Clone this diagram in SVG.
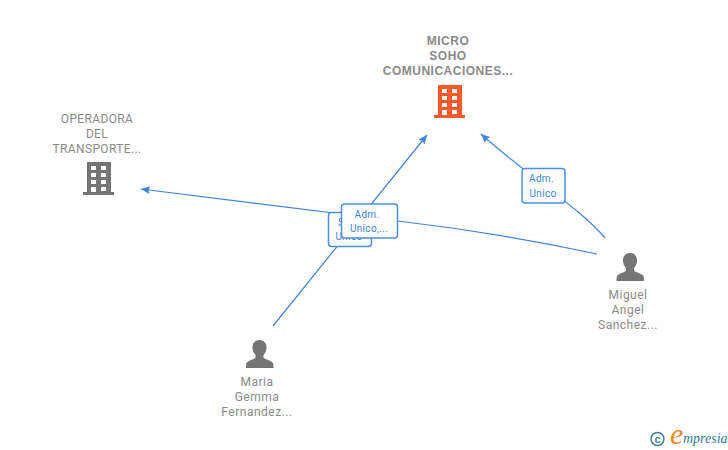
<svg xmlns="http://www.w3.org/2000/svg" width="728" height="450" viewBox="0 0 728 450">
<style>
.bg{fill:#fff}
.lbl{font-family:"Roboto","Liberation Sans",Arial,sans-serif;font-size:12px;fill:#8a8a8a;text-anchor:middle;letter-spacing:.5px}
.t{letter-spacing:.35px}
.b{font-family:"Liberation Sans",Arial,sans-serif;font-weight:700;letter-spacing:.5px}
.edge{fill:none;stroke:#3d83e0;stroke-width:1.2}
.box{fill:#fff;stroke:#4a8fe6;stroke-width:1.5}
.etxt{font-family:"Roboto","Liberation Sans",Arial,sans-serif;font-size:10px;fill:#3d83e0;text-anchor:middle;letter-spacing:.3px}
</style>
<defs>
<marker id="arr" markerWidth="10" markerHeight="10" refX="9" refY="4" orient="auto" markerUnits="userSpaceOnUse">
<path d="M0 0 L9 4 L0 8 L1.500 4 Z" fill="#3d83e0"/>
</marker>
<g id="bld">
<path d="M-12 -17H12V13H15V16H-16V13H-12ZM-8 -13V-9H-3V-13ZM2 -13V-9H7V-13ZM-8 -6V-2H-3V-6ZM2 -6V-2H7V-6ZM-8 1V5H-3V1ZM2 1V5H7V1ZM-8 8V13H-3V8ZM2 8V12H7V8Z" fill-rule="evenodd"/>
</g>
<g id="person">
<path d="M0 -14C5 -14 7.500 -10 7 -5.500C6.700 -2.500 5.500 -.5 4 1V3.500C4 5 11 6 13.500 9C14 10.500 14 13 14 14H-13.500C-13.500 13 -13.500 10.500 -13 9C-10.500 6 -4 5 -4 3.500V1C-5.500 -.5 -6.700 -2.500 -7 -5.500C-7.500 -10 -5 -14 0 -14Z" fill="#757575"/>
</g>
</defs>
<rect class="bg" width="728" height="450"/>
<g id="connectors">
<path class="edge" marker-end="url(#arr)" d="M597 254Q500 233 398 221L141 189"/>
<path class="edge" marker-end="url(#arr)" d="M273 326L427 135"/>
<path class="edge" marker-end="url(#arr)" d="M605 238C580 208 530 178 481 134"/>
</g>
<g id="edge-label-1">
<rect class="box" x="328.500" y="212.500" width="43" height="34" rx="3"/>
<text class="etxt" x="338" y="226" style="text-anchor:start">S</text>
<text class="etxt" x="349" y="240">Unico</text>
</g>
<g id="edge-label-2">
<rect class="box" x="341.500" y="204" width="56" height="34" rx="3"/>
<text class="etxt" x="367" y="218">Adm.</text>
<text class="etxt" x="369" y="232">Unico,...</text>
</g>
<g id="edge-label-3">
<rect class="box" x="522" y="168.500" width="43" height="34.500" rx="3"/>
<text class="etxt" x="541.500" y="182">Adm.</text>
<text class="etxt" x="543" y="197">Unico</text>
</g>
<g id="node-micro">
<text class="lbl b" x="448" y="45">MICRO</text>
<text class="lbl b" x="448" y="60">SOHO</text>
<text class="lbl b" x="448" y="75">COMUNICACIONES...</text>
<use href="#bld" x="450" y="102" fill="#ff5a2b"/>
</g>
<g id="node-operadora">
<text class="lbl t" x="97" y="123">OPERADORA</text>
<text class="lbl t" x="97" y="138">DEL</text>
<text class="lbl t" x="97" y="153">TRANSPORTE...</text>
<use href="#bld" x="99" y="179" fill="#757575"/>
</g>
<g id="node-miguel">
<use href="#person" x="630" y="267"/>
<text class="lbl" x="628" y="299">Miguel</text>
<text class="lbl" x="628" y="314">Angel</text>
<text class="lbl" x="628" y="329">Sanchez...</text>
</g>
<g id="node-maria">
<use href="#person" x="259.500" y="354"/>
<text class="lbl" x="257" y="386">Maria</text>
<text class="lbl" x="257" y="401">Gemma</text>
<text class="lbl" x="257" y="416">Fernandez...</text>
</g>
<g id="logo">
<circle cx="657.500" cy="439" r="6.500" fill="none" stroke="#3f7f96" stroke-width="1.500"/>
<text x="657.500" y="443" font-family="'Liberation Sans',sans-serif" font-size="11" font-weight="700" fill="#3f7f96" text-anchor="middle">c</text>
<text x="670" y="444" font-family="'Liberation Serif',serif" font-style="italic" font-size="30" fill="#f08a1d">e</text>
<text x="683" y="443" font-family="'Liberation Serif',serif" font-style="italic" font-size="14" fill="#2f7f8f">mpresia</text>
</g>
</svg>
